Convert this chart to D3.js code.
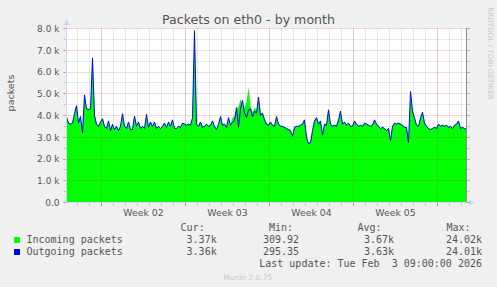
<!DOCTYPE html>
<html><head><meta charset="utf-8">
<script src="https://cdn.jsdelivr.net/npm/d3@7/dist/d3.min.js"></script>
<style>html,body{margin:0;padding:0;background:#f0f0f0;overflow:hidden}</style>
</head><body>
<svg id="chart" width="497" height="287"></svg>
<script>
// ---- data (values in thousands of packets, one sample every 4 hours) ----
const startTimeUTC = Date.UTC(2026, 0, 2, 2);   // first sample
const endTimeUTC = Date.UTC(2026, 1, 4, 10);    // right edge of graph
const stepHours = 4;
const outgoing = [
 3.93,3.65,3.6,3.65,4.1,4.45,3.65,3.95,3.2,4.95,
 4.3,4.28,4.3,6.65,4.0,3.6,3.5,3.7,3.85,3.5,
 3.4,3.75,3.3,3.6,3.35,3.5,3.3,3.5,4.08,3.5,
 3.4,3.7,3.35,3.35,3.97,3.5,3.7,3.4,3.5,3.4,
 4.05,3.45,3.7,3.5,3.7,3.4,3.5,3.4,3.5,3.65,
 3.45,3.7,3.5,3.8,3.4,3.4,3.5,3.45,3.65,3.6,
 3.55,3.6,3.55,3.9,7.9,3.6,3.5,3.7,3.45,3.5,
 3.6,3.5,3.55,3.75,3.5,3.35,3.6,3.95,3.55,3.6,
 3.45,3.9,3.55,3.7,3.75,4.36,3.45,4.3,4.69,4.1,
 3.9,4.25,4.3,3.95,4.2,4.1,4.85,4.0,4.1,3.8,
 3.6,3.55,3.7,3.55,3.5,3.95,3.6,3.5,3.5,3.45,
 3.4,3.35,3.3,3.05,3.45,3.5,3.5,3.55,3.6,3.8,
 3.0,2.7,2.75,3.3,3.75,3.9,3.6,3.75,3.1,3.6,
 3.55,4.26,3.6,3.5,3.55,3.5,3.8,4.2,3.6,3.7,
 3.55,3.65,3.5,3.5,3.75,3.6,3.5,3.55,3.5,3.65,
 3.6,3.55,3.5,3.55,3.8,3.6,3.5,3.4,3.45,3.4,
 3.3,3.4,2.85,3.5,3.65,3.6,3.65,3.6,3.55,3.45,
 3.45,2.75,5.1,4.2,3.9,3.55,3.5,3.9,4.15,3.65,
 3.5,3.4,3.35,3.4,3.45,3.4,3.6,3.5,3.55,3.5,
 3.55,3.45,3.5,3.4,3.55,3.6,3.75,3.4,3.45,3.4,
 3.37
];
const incoming = [
 3.95,3.68,3.62,3.68,4.12,4.46,3.68,3.97,3.24,4.96,
 4.32,4.3,4.32,6.66,4.03,3.63,3.53,3.72,3.87,3.53,
 3.43,3.77,3.33,3.62,3.38,3.53,3.33,3.52,4.1,3.53,
 3.43,3.72,3.38,3.38,3.99,3.53,3.72,3.43,3.52,3.43,
 4.07,3.48,3.72,3.53,3.72,3.43,3.52,3.43,3.53,3.67,
 3.48,3.72,3.53,3.82,3.43,3.43,3.52,3.48,3.67,3.63,
 3.58,3.62,3.58,3.92,7.92,3.63,3.53,3.72,3.48,3.53,
 3.63,3.53,3.58,3.77,3.53,3.38,3.62,3.97,3.58,3.62,
 3.48,3.92,3.58,3.9,3.95,4.3,4.4,4.75,4.5,4.35,
 4.6,5.3,4.45,4.15,4.35,4.25,4.7,4.1,4.15,3.85,
 3.63,3.58,3.72,3.58,3.53,3.97,3.63,3.53,3.53,3.48,
 3.43,3.38,3.33,3.08,3.48,3.53,3.53,3.58,3.63,3.82,
 3.03,2.73,2.78,3.33,3.77,3.92,3.63,3.77,3.13,3.63,
 3.58,4.28,3.63,3.53,3.58,3.53,3.82,4.22,3.63,3.72,
 3.58,3.67,3.53,3.53,3.77,3.63,3.53,3.58,3.53,3.67,
 3.63,3.58,3.53,3.58,3.82,3.63,3.53,3.43,3.48,3.43,
 3.33,3.43,2.88,3.53,3.67,3.63,3.67,3.63,3.58,3.48,
 3.48,2.78,5.12,4.22,3.92,3.58,3.53,3.92,4.17,3.67,
 3.53,3.43,3.38,3.43,3.48,3.43,3.63,3.53,3.58,3.53,
 3.58,3.48,3.53,3.43,3.58,3.63,3.77,3.43,3.48,3.43,
 3.39
];
const yTickValues = [0,1,2,3,4,5,6,7,8];
const yTickLabels = ["0.0","1.0 k","2.0 k","3.0 k","4.0 k","5.0 k","6.0 k","7.0 k","8.0 k"];
const weekLabels = ["Week 02","Week 03","Week 04","Week 05"];
const seriesNames = ["Incoming packets","Outgoing packets"];
const seriesColors = ["#00ff00","#0000ff"];
const statHeaders = ["Cur:","Min:","Avg:","Max:"];
const statCur = ["3.37k","3.36k"];
const statMin = ["309.92","295.35"];
const statAvg = ["3.67k","3.63k"];
const statMax = ["24.02k","24.01k"];
const titleText = "Packets on eth0 - by month";
const yLabel = "packets";
const lastUpdate = "Last update: Tue Feb  3 09:00:00 2026";
const watermark = "RRDTOOL / TOBI OETIKER";
const footer = "Munin 2.0.75";

// ---- drawing ----
const svg = d3.select("#chart");
const W = 497, H = 287;
const L = 66.5, R = 466.5, B = 202.5, T = 28.5;
const x = d3.scaleUtc().domain([new Date(startTimeUTC), new Date(endTimeUTC)]).range([L, R]);
const y = d3.scaleLinear().domain([0, 8]).range([B, T]);
const timeAt = i => new Date(startTimeUTC + i * stepHours * 3600e3);
const txt = "#555555";
const sans = "'DejaVu Sans', Verdana, sans-serif";
const mono = "'DejaVu Sans Mono', monospace";

svg.append("rect").attr("width", W).attr("height", H).attr("fill", "#f0f0f0");
svg.append("rect").attr("x", L).attr("y", T).attr("width", R - L).attr("height", B - T).attr("fill", "#ffffff");

const minorCol = "rgba(140,140,140,0.4)";
const majorCol = "rgba(200,40,40,0.35)";
const days = d3.utcDay.range(x.domain()[0], x.domain()[1]);
const weeks = d3.utcMonday.range(x.domain()[0], x.domain()[1]);
const halfTicks = d3.range(0.5, 8, 1);
const snap = v => Math.round(v - 0.5) + 0.5;

// minor grid (under data)
const gMinor = svg.append("g").attr("stroke", minorCol).attr("stroke-dasharray", "1,1").attr("fill", "none");
days.forEach(d => { const xx = snap(x(d)); gMinor.append("line").attr("x1", xx).attr("x2", xx).attr("y1", T).attr("y2", B); });
halfTicks.forEach(v => { const yy = snap(y(v)); gMinor.append("line").attr("x1", L).attr("x2", R).attr("y1", yy).attr("y2", yy); });

// incoming area
const area = d3.area().x((d, i) => x(timeAt(i))).y0(y(0)).y1(d => y(d)).curve(d3.curveLinear);
svg.append("path").datum(incoming).attr("d", area).attr("fill", seriesColors[0]);

// major grid (over area)
const gMajor = svg.append("g").attr("stroke", majorCol).attr("stroke-dasharray", "1,1").attr("fill", "none");
weeks.forEach(d => { const xx = snap(x(d)); gMajor.append("line").attr("x1", xx).attr("x2", xx).attr("y1", T).attr("y2", B); });
yTickValues.filter(v => v > 0).forEach(v => { const yy = snap(y(v)); gMajor.append("line").attr("x1", L).attr("x2", R).attr("y1", yy).attr("y2", yy); });

// outgoing line
const line = d3.line().x((d, i) => x(timeAt(i))).y(d => y(d)).curve(d3.curveLinear);
svg.append("path").datum(outgoing).attr("d", line).attr("fill", "none").attr("stroke", seriesColors[1]).attr("stroke-width", 1);

// axes
const axisCol = "#cfd6f8";
svg.append("line").attr("x1", L).attr("x2", L).attr("y1", B + 1).attr("y2", 24).attr("stroke", axisCol);
svg.append("line").attr("x1", L - 1).attr("x2", 470).attr("y1", B).attr("y2", B).attr("stroke", axisCol);
svg.append("path").attr("d", `M${L - 3},25 L${L + 3},25 L${L},19 Z`).attr("fill", axisCol);
svg.append("path").attr("d", `M469,${B - 3} L469,${B + 3} L475,${B} Z`).attr("fill", axisCol);
// right frame
svg.append("line").attr("x1", R).attr("x2", R).attr("y1", T - 0.5).attr("y2", B).attr("stroke", "#8c8c8c");

// tick marks
days.forEach(d => { const xx = snap(x(d)); svg.append("line").attr("x1", xx).attr("x2", xx).attr("y1", B + 1).attr("y2", B + 3).attr("stroke", "rgba(140,140,140,0.6)"); });
weeks.forEach(d => { const xx = snap(x(d)); svg.append("line").attr("x1", xx).attr("x2", xx).attr("y1", B + 1).attr("y2", B + 3).attr("stroke", "rgba(200,40,40,0.6)"); });
yTickValues.forEach(v => {
  const yy = snap(y(v));
  svg.append("line").attr("x1", L - 3).attr("x2", L - 1).attr("y1", yy).attr("y2", yy).attr("stroke", "rgba(200,40,40,0.6)");
  svg.append("line").attr("x1", R + 1).attr("x2", R + 3).attr("y1", yy).attr("y2", yy).attr("stroke", "rgba(200,40,40,0.6)");
});
halfTicks.forEach(v => {
  const yy = snap(y(v));
  svg.append("line").attr("x1", L - 3).attr("x2", L - 1).attr("y1", yy).attr("y2", yy).attr("stroke", "rgba(140,140,140,0.6)");
  svg.append("line").attr("x1", R + 1).attr("x2", R + 3).attr("y1", yy).attr("y2", yy).attr("stroke", "rgba(140,140,140,0.6)");
});

// y tick labels
yTickValues.forEach((v, i) => {
  svg.append("text").attr("x", 59.5).attr("y", y(v) + 3.3).attr("text-anchor", "end")
    .attr("font-family", sans).attr("font-size", 9).attr("fill", txt).text(yTickLabels[i]);
});
// x week labels centred in each week
weekLabels.forEach((lab, i) => {
  const a = weeks[i], b = weeks[i + 1];
  const cx = (x(a) + x(b)) / 2;
  svg.append("text").attr("x", cx).attr("y", 216).attr("text-anchor", "middle")
    .attr("font-family", sans).attr("font-size", 9.3).attr("fill", txt).text(lab);
});

// title
svg.append("text").attr("x", 248.5).attr("y", 24).attr("text-anchor", "middle")
  .attr("font-family", sans).attr("font-size", 12.6).attr("fill", txt).text(titleText);
// y label
svg.append("text").attr("transform", "translate(14,93) rotate(-90)").attr("text-anchor", "middle")
  .attr("font-family", sans).attr("font-size", 9.5).attr("fill", txt).text(yLabel);
// watermark
svg.append("text").attr("transform", "translate(487.5,53.5) rotate(90)").attr("text-anchor", "middle")
  .attr("font-family", sans).attr("font-size", 7.2).attr("fill", "#c8c8c8").text(watermark);

// legend
const cols = [216.7, 299, 394, 482];
const headX = [204.7, 293, 381.5, 470.5];
statHeaders.forEach((h, i) => {
  svg.append("text").attr("x", headX[i]).attr("y", 230.7).attr("text-anchor", "end")
    .attr("font-family", mono).attr("font-size", 10).attr("fill", txt).text(h);
});
const stats = [statCur, statMin, statAvg, statMax];
seriesNames.forEach((name, r) => {
  const by = 243 + r * 12;
  svg.append("rect").attr("x", 14).attr("y", by - 6).attr("width", 6).attr("height", 6).attr("fill", seriesColors[r]);
  svg.append("text").attr("x", 26.5).attr("y", by).attr("font-family", mono).attr("font-size", 10)
    .attr("fill", txt).text(name);
  stats.forEach((s, c) => {
    svg.append("text").attr("x", cols[c]).attr("y", by).attr("text-anchor", "end")
      .attr("font-family", mono).attr("font-size", 10).attr("fill", txt).text(s[r]);
  });
});
svg.append("text").attr("x", 482).attr("y", 266.7).attr("text-anchor", "end")
  .attr("font-family", mono).attr("font-size", 10).attr("fill", txt)
  .attr("xml:space", "preserve").style("white-space", "pre").text(lastUpdate);
svg.append("text").attr("x", 247.7).attr("y", 279.5).attr("text-anchor", "middle")
  .attr("font-family", sans).attr("font-size", 7.5).attr("fill", "#c8c8c8").text(footer);
</script>
</body></html>
